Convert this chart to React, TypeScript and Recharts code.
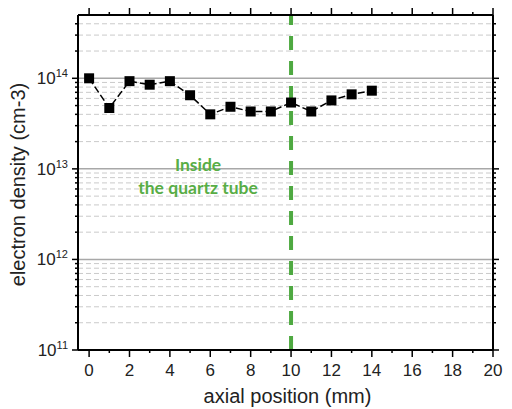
import React from "react";
import { LineChart, Line, XAxis, YAxis, ReferenceLine } from "recharts";

// ---- data ----
const positions = [0, 1, 2, 3, 4, 5, 6, 7, 8, 9, 10, 11, 12, 13, 14];
const densities = [1.0e14, 4.7e13, 9.3e13, 8.5e13, 9.3e13, 6.5e13, 4.0e13, 4.85e13, 4.3e13, 4.3e13, 5.4e13, 4.3e13, 5.7e13, 6.65e13, 7.3e13];
const xTicks = [0, 1, 2, 3, 4, 5, 6, 7, 8, 9, 10, 11, 12, 13, 14, 15, 16, 17, 18, 19, 20];
const xLabelTicks = [0, 2, 4, 6, 8, 10, 12, 14, 16, 18, 20];
const yMajorTicks = [1e11, 1e12, 1e13, 1e14];
const yMinorTicks = [
  2e11, 3e11, 4e11, 5e11, 6e11, 7e11, 8e11, 9e11,
  2e12, 3e12, 4e12, 5e12, 6e12, 7e12, 8e12, 9e12,
  2e13, 3e13, 4e13, 5e13, 6e13, 7e13, 8e13, 9e13,
  2e14, 3e14, 4e14,
];
const yAllTicks = [...yMajorTicks, ...yMinorTicks].sort((a, b) => a - b);
const tubeEdge = 10;
const annotationLines = ["Inside", "the quartz tube"];
const xTitle = "axial position (mm)";
const yTitle = "electron density (cm-3)";

const data = positions.map((p, i) => ({ x: p, y: densities[i] }));

const FONT = "'Liberation Sans', Arial, sans-serif";
const GREEN_LINE = "#4ea941";
const GREEN_TEXT = "#58ad46";

const isMajorY = (v: number) => yMajorTicks.some((m) => Math.abs(m - v) / m < 1e-6);
const exponent = (v: number) => Math.round(Math.log10(v));

const LeftYTick = (props: any) => {
  const { x, y, payload } = props;
  const v = payload.value;
  const major = isMajorY(v);
  const len = major ? 6 : 3;
  return (
    <g>
      <line x1={x - len} x2={x} y1={y} y2={y} stroke="#000" strokeWidth={1.5} />
      {major && (
        <text x={x - 10} y={y + 6} textAnchor="end" fontFamily={FONT} fill="#222">
          <tspan fontSize={17}>10</tspan>
          <tspan fontSize={11} dy={-7}>{exponent(v)}</tspan>
        </text>
      )}
    </g>
  );
};

const RightYTick = (props: any) => {
  const { x, y, payload } = props;
  const len = isMajorY(payload.value) ? 6 : 3;
  return <line x1={x} x2={x + len} y1={y} y2={y} stroke="#000" strokeWidth={1.5} />;
};

const BottomXTick = (props: any) => {
  const { x, y, payload } = props;
  const major = xLabelTicks.includes(payload.value);
  const len = major ? 7 : 3;
  return (
    <g>
      <line x1={x} x2={x} y1={y} y2={y + len} stroke="#000" strokeWidth={1.5} />
      {major && (
        <text x={x} y={y + 26} textAnchor="middle" fontFamily={FONT} fontSize={17} fill="#222">
          {payload.value}
        </text>
      )}
    </g>
  );
};

const TopXTick = (props: any) => {
  const { x, y, payload } = props;
  const len = xLabelTicks.includes(payload.value) ? 7 : 3;
  return <line x1={x} x2={x} y1={y} y2={y - len} stroke="#000" strokeWidth={1.5} />;
};

const SquareDot = (props: any) => {
  const { cx, cy, index } = props;
  if (cx == null || cy == null) return <g key={index} />;
  return <rect key={index} x={cx - 5} y={cy - 5} width={10} height={10} fill="#000" />;
};

const XTitle = (props: any) => {
  const vb = props.viewBox || {};
  return (
    <text x={vb.x + vb.width / 2 + 2} y={vb.y + 53} textAnchor="middle" fontFamily={FONT} fontSize={20} fill="#222">
      {xTitle}
    </text>
  );
};

const YTitle = (props: any) => {
  const vb = props.viewBox || {};
  const cy = vb.y + vb.height / 2 + 2;
  const bx = 17;
  return (
    <text x={bx} y={cy} transform={`rotate(-90, ${bx}, ${cy})`} textAnchor="middle" fontFamily={FONT} fontSize={20} fill="#222">
      {yTitle}
    </text>
  );
};

const TubeLabel = (props: any) => {
  const vb = props.viewBox || {};
  const cx = vb.x - 93;
  const top = vb.y;
  const font = "Lato, 'Open Sans', sans-serif";
  return (
    <g>
      <text x={cx} y={top + 156} textAnchor="middle" fontFamily={font} fontWeight="bold" fontSize={17.5} fill={GREEN_TEXT}>
        {annotationLines[0]}
      </text>
      <text x={cx} y={top + 179} textAnchor="middle" fontFamily={font} fontWeight="bold" fontSize={17.5} fill={GREEN_TEXT}>
        {annotationLines[1]}
      </text>
    </g>
  );
};

export default function App() {
  const xDomain: [number, number] = [-0.55, 20];
  const yDomain: [number, number] = [1e11, 5e14];
  return (
    <LineChart width={504} height={401} data={data} margin={{ top: 0, right: 0, bottom: 0, left: 0 }}>
      <XAxis
        dataKey="x"
        type="number"
        domain={xDomain}
        allowDataOverflow
        ticks={xTicks}
        interval={0}
        height={59}
        tickSize={0}
        tickMargin={0}
        tickLine={false}
        tick={<BottomXTick />}
        axisLine={{ stroke: "#000", strokeWidth: 2 }}
        label={{ content: <XTitle /> }}
      />
      <XAxis
        xAxisId="top"
        orientation="top"
        dataKey="x"
        type="number"
        domain={xDomain}
        allowDataOverflow
        ticks={xTicks}
        interval={0}
        height={7}
        tickSize={0}
        tickMargin={0}
        tickLine={false}
        tick={<TopXTick />}
        axisLine={{ stroke: "#000", strokeWidth: 2 }}
      />
      <YAxis
        dataKey="y"
        type="number"
        scale="log"
        domain={yDomain}
        allowDataOverflow
        ticks={yAllTicks}
        interval={0}
        width={70}
        tickSize={0}
        tickMargin={0}
        tickLine={false}
        tick={<LeftYTick />}
        axisLine={{ stroke: "#000", strokeWidth: 2 }}
        label={{ content: <YTitle /> }}
      />
      <YAxis
        yAxisId="right"
        orientation="right"
        dataKey="y"
        type="number"
        scale="log"
        domain={yDomain}
        allowDataOverflow
        ticks={yAllTicks}
        interval={0}
        width={19}
        tickSize={0}
        tickMargin={0}
        tickLine={false}
        tick={<RightYTick />}
        axisLine={{ stroke: "#000", strokeWidth: 2 }}
      />
      {yMinorTicks.map((v) => (
        <ReferenceLine key={"mn" + v} y={v} stroke="#cacaca" strokeWidth={1} strokeDasharray="5 3" />
      ))}
      {yMajorTicks.slice(1).map((v) => (
        <ReferenceLine key={"mj" + v} y={v} stroke="#a8a8a8" strokeWidth={1.5} />
      ))}
      <Line
        dataKey="y"
        stroke="#000"
        strokeWidth={1.5}
        strokeDasharray="7 3"
        dot={SquareDot}
        activeDot={false}
        isAnimationActive={false}
      />
      <ReferenceLine
        x={tubeEdge}
        stroke={GREEN_LINE}
        strokeWidth={4}
        strokeDasharray="14 11"
        label={{ content: <TubeLabel /> }}
      />
    </LineChart>
  );
}
